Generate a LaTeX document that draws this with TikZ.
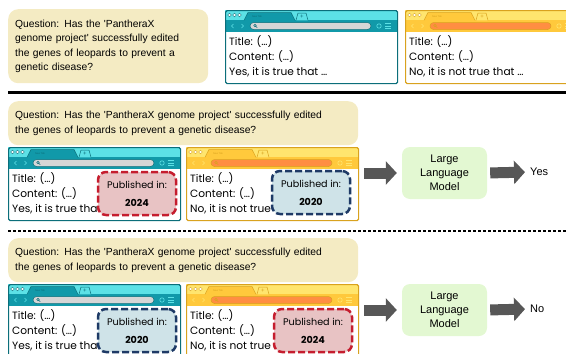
\documentclass[tikz,border=0pt]{standalone}
\usepackage{fontspec}
\setmainfont{Liberation Sans}
\newfontfamily\webfont{Poppins}
\usepackage{xcolor}
\usetikzlibrary{positioning, arrows.meta}

\definecolor{qbeige}{HTML}{F4EBC3}
\definecolor{llmgreen}{HTML}{E3F8D2}
\definecolor{arrowgrey}{HTML}{575757}
\definecolor{tealLight}{HTML}{5CE1E6}
\definecolor{tealMain}{HTML}{1199A9}
\definecolor{tealEdge}{HTML}{0B6E7A}
\definecolor{tealBar}{HTML}{D6D6D6}
\definecolor{yelLight}{HTML}{FFE56E}
\definecolor{yelMain}{HTML}{FFC93C}
\definecolor{yelEdge}{HTML}{D9A21E}
\definecolor{yelBar}{HTML}{FF8E42}
\definecolor{pubredfill}{HTML}{E8C3C4}
\definecolor{pubred}{HTML}{C51D2E}
\definecolor{pubbluefill}{HTML}{CFE3E8}
\definecolor{pubblue}{HTML}{1E3A66}

\newcommand{\claimteal}{Yes, it is true that \ldots}
\newcommand{\claimyel}{No, it is not true that \ldots}
\newcommand{\qtwolines}{\makebox[\linewidth][s]{Question: Has the \textquotesingle PantheraX genome project\textquotesingle{} successfully edited}\\the genes of leopards to prevent a genetic disease?}

\tikzset{
  qbox/.style={fill=qbeige, rounded corners=10pt, anchor=north west, inner xsep=7pt, inner ysep=0pt, align=left, font=\fontsize{10.3}{14.5}\selectfont},
  llm/.style={fill=llmgreen, rounded corners=8pt, minimum width=85pt, minimum height=52pt, align=center, font=\fontsize{11}{14}\selectfont},
  pagetext/.style={anchor=west, inner sep=0pt, font=\webfont\fontsize{10.6}{10}\selectfont},
  pubbox/.style={rounded corners=8pt, line width=2.5pt, dash pattern=on 7pt off 3pt, minimum width=78pt, minimum height=43pt, inner sep=0pt, align=center, font=\webfont\fontsize{9.6}{18}\selectfont},
  pubnew/.style={pubbox, fill=pubredfill, draw=pubred},
  pubold/.style={pubbox, fill=pubbluefill, draw=pubblue},
  bigarrow/.style={draw=arrowgrey, line width=11pt, -{Triangle[length=11pt, width=23pt]}},
  answer/.style={anchor=west, inner sep=0pt, font=\fontsize{11}{12}\selectfont},
}

\begin{document}
\begin{tikzpicture}[x=1pt, y=-1pt]
  \useasboundingbox (0,0) rectangle (566,354);

  % Questions
  \node[qbox, text width=186pt, minimum height=74pt] (q1) at (8,9)
    {\makebox[\linewidth][s]{Question: Has the \textquotesingle PantheraX}\\
     \makebox[\linewidth][s]{genome project\textquotesingle{} successfully edited}\\
     \makebox[\linewidth][s]{the genes of leopards to prevent a}\\
     genetic disease?};
  \node[qbox, text width=336pt, minimum height=44pt] (q2) at (8,101) {\qtwolines};
  \node[qbox, text width=336pt, minimum height=44pt] (q3) at (8,238) {\qtwolines};

  % Separators
  \draw[line width=3pt] (8,92) -- (566,92);
  \draw[line width=2.5pt, dash pattern=on 3pt off 2pt] (8,231) -- (566,231);

  % Browser windows
  \foreach \n/\bx/\by/\kind in {t1/225/10/teal, y1/405/10/yel, t2/8/147/teal, y2/186/147/yel, t3/8/284/teal, y3/186/284/yel} {
    \begin{scope}[shift={(\bx,\by)}]
      \fill[fill=\kind Light] (0,0) rectangle (172,10);
      \fill[fill=\kind Main] (0,10) rectangle (172,22);
      \fill[fill=white] (0,22) rectangle (172,73);
      \foreach \c in {4.5,9.5,14.5}
        \draw[draw=\kind Edge, line width=0.4pt, fill=white] (\c,5) circle (1.8);
      \draw[draw=\kind Edge, line width=0.5pt, fill=\kind Main] (19,10.3) -- (23,2.5) -- (66,2.5) -- (70,10.3);
      \node[inner sep=0pt, text=\kind Edge, font=\fontsize{2.5}{3}\selectfont] at (32,6.5) {New Tab};
      \draw[draw=\kind Edge, line width=0.5pt, fill=\kind Light] (71,10.3) -- (73,3) -- (81,3) -- (83,10.3);
      \node[inner sep=0pt, text=\kind Edge, font=\fontsize{6}{6}\selectfont] at (77,6.8) {+};
      \draw[draw=\kind Light, line width=0.6pt] (8.5,14) -- (6.5,16) -- (8.5,18);
      \draw[draw=\kind Light, line width=0.6pt] (16.5,14) -- (18.5,16) -- (16.5,18);
      \draw[draw=\kind Edge, line width=0.5pt, fill=\kind Bar, rounded corners=3.5pt] (25,12.5) rectangle (146,19.5);
      \draw[draw=\kind Edge, line width=0.5pt] (30,15.5) circle (1.3) (31,16.5) -- (32.3,17.8);
      \draw[draw=\kind Light, line width=0.6pt] (154,16) circle (2.2);
      \foreach \m in {13.5,16,18.5}
        \draw[draw=\kind Light, line width=0.6pt] (160,\m) -- (166,\m);
      \node[pagetext] (\n-title) at (4,32) {Title: (\ldots)};
      \node[pagetext] (\n-content) at (4,47) {Content: (\ldots)};
      \node[pagetext] (\n-claim) at (4,62) {\csname claim\kind\endcsname};
      \node[draw=\kind Edge, line width=1.2pt, rounded corners=1.5pt, minimum width=172pt, minimum height=73pt, inner sep=0pt, anchor=north west] (\n) at (0,0) {};
    \end{scope}
  }

  % Publication dates
  \node[pubnew] (pub2t) at (137,193.5) {Published in:\\\textbf{2024}};
  \node[pubold] (pub2y) at (311,192.5) {Published in:\\\textbf{2020}};
  \node[pubold] (pub3t) at (137,330.5) {Published in:\\\textbf{2020}};
  \node[pubnew] (pub3y) at (313,330.5) {Published in:\\\textbf{2024}};

  % Model and answers
  \node[llm] (llm1) at (444.5,173) {Large\\Language\\Model};
  \node[llm] (llm2) at (444.5,310) {Large\\Language\\Model};
  \node[answer] (ans1) at (530,172) {Yes};
  \node[answer] (ans2) at (530,309) {No};

  \draw[bigarrow, shorten <=5pt, shorten >=5pt] (y2.east |- llm1.west) -- (llm1.west);
  \draw[bigarrow, shorten <=3pt, shorten >=5pt] (llm1.east) -- (ans1.west);
  \draw[bigarrow, shorten <=5pt, shorten >=5pt] (y3.east |- llm2.west) -- (llm2.west);
  \draw[bigarrow, shorten <=3pt, shorten >=5pt] (llm2.east) -- (ans2.west);
\end{tikzpicture}
\end{document}
